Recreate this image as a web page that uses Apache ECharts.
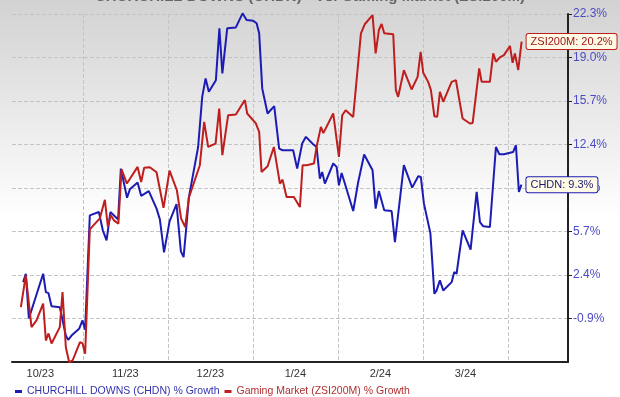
<!DOCTYPE html>
<html>
<head>
<meta charset="utf-8">
<script src="https://cdn.jsdelivr.net/npm/echarts@6/dist/echarts.min.js"></script>
<style>
  html, body { margin: 0; padding: 0; background: #fff; }
  #main { width: 620px; height: 397px; }
</style>
</head>
<body>
<div id="main"></div>
<script>
// x positions are in months counted from 1 Oct 2023, values are % growth
var monthLabels = ['10/23', '11/23', '12/23', '1/24', '2/24', '3/24'];
var yTicks = ['-0.9%', '2.4%', '5.7%', '9.0%', '12.4%', '15.7%', '19.0%', '22.3%'];

var chdnMonth = [0.298, 0.329, 0.365, 0.533, 0.565, 0.596, 0.632, 0.729, 0.800, 0.827,
  0.867, 0.956, 0.996, 1.027, 1.082, 1.188, 1.235, 1.279, 1.324, 1.415,
  1.447, 1.520, 1.553, 1.644, 1.686, 1.776, 1.867, 1.906, 1.955, 2.020,
  2.102, 2.153, 2.185, 2.218, 2.247, 2.356, 2.404, 2.444, 2.482, 2.565,
  2.606, 2.641, 2.698, 2.800, 2.879, 2.926, 3.004, 3.044, 3.074, 3.110,
  3.173, 3.251, 3.309, 3.349, 3.474, 3.521, 3.580, 3.624, 3.709, 3.749,
  3.788, 3.815, 3.847, 3.945, 3.985, 4.012, 4.044, 4.082, 4.180, 4.239,
  4.309, 4.408, 4.444, 4.482, 4.545, 4.632, 4.671, 4.776, 4.874, 4.945,
  4.976, 5.012, 5.088, 5.135, 5.161, 5.200, 5.239, 5.338, 5.368, 5.396,
  5.467, 5.561, 5.632, 5.671, 5.710, 5.788, 5.859, 5.898, 5.953, 6.062,
  6.094, 6.129, 6.159];
var chdnGrowth = [1.87, 2.51, -0.90, 2.51, 1.11, 1.03, 0.04, -0.04, -2.20, -2.53,
  -2.20, -1.69, -1.05, -1.76, 6.96, 7.21, 5.82, 5.05, 7.21, 6.65,
  10.52, 8.30, 8.94, 9.46, 8.45, 8.81, 7.47, 6.65, 4.14, 6.50,
  7.82, 4.21, 3.78, 6.12, 8.33, 12.17, 15.99, 17.39, 16.37, 17.26,
  21.21, 17.77, 21.21, 21.28, 22.35, 21.84, 21.79, 21.59, 20.83, 16.63,
  14.72, 15.28, 12.05, 11.92, 11.92, 10.52, 12.43, 12.94, 12.38, 12.17,
  9.76, 10.26, 9.38, 10.91, 10.65, 9.25, 10.19, 9.38, 7.29, 9.50,
  11.59, 10.39, 7.47, 8.81, 7.34, 7.29, 4.92, 10.78, 9.07, 9.94,
  9.88, 7.85, 5.59, 0.98, 1.24, 2.00, 1.24, 1.87, 2.63, 2.51,
  5.82, 4.34, 8.74, 6.45, 6.12, 6.07, 12.17, 11.62, 11.62, 11.79,
  12.30, 8.75, 9.3];

var zsiMonth = [0.271, 0.329, 0.396, 0.455, 0.533, 0.565, 0.596, 0.632, 0.729, 0.761,
  0.800, 0.839, 0.879, 0.965, 0.996, 1.027, 1.082, 1.200, 1.259, 1.294,
  1.329, 1.365, 1.418, 1.455, 1.518, 1.644, 1.686, 1.721, 1.788, 1.867,
  1.949, 2.020, 2.106, 2.156, 2.204, 2.247, 2.376, 2.427, 2.474, 2.561,
  2.604, 2.641, 2.709, 2.800, 2.867, 2.906, 2.933, 3.035, 3.074, 3.102,
  3.173, 3.247, 3.318, 3.349, 3.396, 3.482, 3.553, 3.585, 3.632, 3.718,
  3.749, 3.800, 3.829, 3.945, 4.012, 4.051, 4.091, 4.180, 4.271, 4.318,
  4.408, 4.444, 4.482, 4.514, 4.545, 4.651, 4.682, 4.709, 4.776, 4.867,
  4.938, 4.973, 5.004, 5.062, 5.094, 5.135, 5.168, 5.200, 5.239, 5.338,
  5.388, 5.467, 5.553, 5.585, 5.662, 5.691, 5.788, 5.827, 5.859, 5.906,
  5.953, 6.024, 6.055, 6.082, 6.121, 6.161];
var zsiGrowth = [-0.04, 2.38, -1.56, -1.05, 0.24, -2.58, -2.04, -2.81, -1.56, 1.11,
  -3.09, -4.23, -4.10, -2.71, -2.78, -3.59, 5.89, 6.73, 8.14, 6.12,
  6.96, 6.58, 6.33, 10.47, 9.38, 10.65, 9.50, 10.58, 10.62, 10.24,
  7.53, 10.37, 8.87, 6.71, 6.07, 8.30, 10.78, 14.08, 12.17, 12.43,
  15.10, 11.54, 14.59, 14.64, 15.35, 15.74, 14.72, 13.96, 13.32, 10.26,
  10.70, 12.17, 9.38, 9.68, 8.36, 8.36, 7.59, 10.78, 10.78, 10.91,
  12.17, 13.70, 13.22, 14.72, 11.41, 14.59, 14.97, 14.46, 20.83, 21.54,
  22.22, 19.30, 21.08, 21.54, 20.83, 20.75, 16.50, 15.99, 18.02, 16.55,
  17.51, 19.42, 17.82, 17.13, 16.50, 14.51, 14.46, 16.37, 15.61, 17.13,
  17.26, 14.34, 13.96, 14.00, 18.15, 17.13, 17.13, 19.30, 18.66, 18.99,
  19.17, 19.86, 18.58, 19.30, 18.02, 20.2];

// the x axis runs in sixths of a month so that month borders fall on ticks
function toPairs(months, values) {
  return months.map(function (m, i) { return [m * 6, values[i]]; });
}

var yStep = 23.2 / 7;
var font = 'Liberation Sans, Arial, sans-serif';
var blue = '#1c1cb4';
var red = '#be1e1e';

var chart = echarts.init(document.getElementById('main'));
chart.setOption({
  animation: false,
  backgroundColor: {
    type: 'linear', x: 0, y: 0, x2: 0, y2: 1,
    colorStops: [{offset: 0, color: '#d2d2d2'}, {offset: 0.55, color: '#ffffff'}, {offset: 1, color: '#ffffff'}]
  },
  title: {
    text: 'CHURCHILL DOWNS (CHDN) - Vs. Gaming Market (ZSI200M)',
    left: 'center',
    top: -16,
    textStyle: {fontFamily: font, fontSize: 15, fontWeight: 'bold', color: '#666'}
  },
  grid: {left: 12, right: 52, top: 14, bottom: 35},
  legend: {
    left: 10,
    top: 381,
    icon: 'rect',
    itemWidth: 7,
    itemHeight: 3,
    itemGap: 5,
    textStyle: {fontFamily: font, fontSize: 10.5},
    data: [
      {name: 'CHURCHILL DOWNS (CHDN) % Growth', textStyle: {color: '#3333b0'}},
      {name: 'Gaming Market (ZSI200M) % Growth', textStyle: {color: '#b03030'}}
    ]
  },
  xAxis: {
    type: 'value',
    min: 1,
    max: 40.24,
    interval: 1,
    axisLine: {onZero: false, lineStyle: {color: '#222', width: 2}},
    axisTick: {show: false},
    axisLabel: {
      margin: 6,
      fontFamily: font,
      fontSize: 11,
      color: '#333',
      showMinLabel: false,
      showMaxLabel: false,
      formatter: function (v) {
        var k = (v - 3) / 6;
        return (k >= 0 && k === Math.round(k) && monthLabels[k]) ? monthLabels[k] : '';
      }
    },
    splitLine: {
      show: true,
      lineStyle: {
        type: 'dashed',
        width: 1,
        color: ['transparent', 'transparent', 'transparent', 'transparent', 'transparent', '#c4c4c4']
      }
    }
  },
  yAxis: {
    type: 'value',
    position: 'right',
    min: -0.9 - yStep,
    max: 22.3,
    interval: yStep,
    axisLine: {show: true, onZero: false, lineStyle: {color: '#222', width: 2}},
    axisTick: {show: true, length: 4, lineStyle: {color: '#222'}},
    axisLabel: {
      margin: 5,
      fontFamily: font,
      fontSize: 12,
      color: '#4b4bc4',
      showMinLabel: false,
      formatter: function (v) {
        var i = Math.round((v + 0.9) / yStep);
        return yTicks[i] || '';
      }
    },
    splitLine: {show: true, lineStyle: {type: 'dashed', width: 1, color: '#c4c4c4'}}
  },
  series: [
    {
      name: 'CHURCHILL DOWNS (CHDN) % Growth',
      type: 'line',
      data: toPairs(chdnMonth, chdnGrowth),
      showSymbol: false,
      clip: false,
      lineStyle: {color: blue, width: 2},
      itemStyle: {color: blue},
      endLabel: {
        show: true,
        distance: 5,
        formatter: function (p) { return 'CHDN: ' + p.value[1].toFixed(1) + '%'; },
        fontFamily: font,
        fontSize: 11,
        color: '#1a1a6e',
        backgroundColor: '#fffbe6',
        borderColor: blue,
        borderWidth: 1,
        borderRadius: 2,
        padding: [2, 4]
      }
    },
    {
      name: 'Gaming Market (ZSI200M) % Growth',
      type: 'line',
      data: toPairs(zsiMonth, zsiGrowth),
      showSymbol: false,
      clip: false,
      lineStyle: {color: red, width: 2},
      itemStyle: {color: red},
      endLabel: {
        show: true,
        distance: 5,
        formatter: function (p) { return 'ZSI200M: ' + p.value[1].toFixed(1) + '%'; },
        fontFamily: font,
        fontSize: 11,
        color: '#9a1010',
        backgroundColor: '#fffbe6',
        borderColor: red,
        borderWidth: 1,
        borderRadius: 2,
        padding: [2, 4]
      }
    }
  ]
});
</script>
</body>
</html>
